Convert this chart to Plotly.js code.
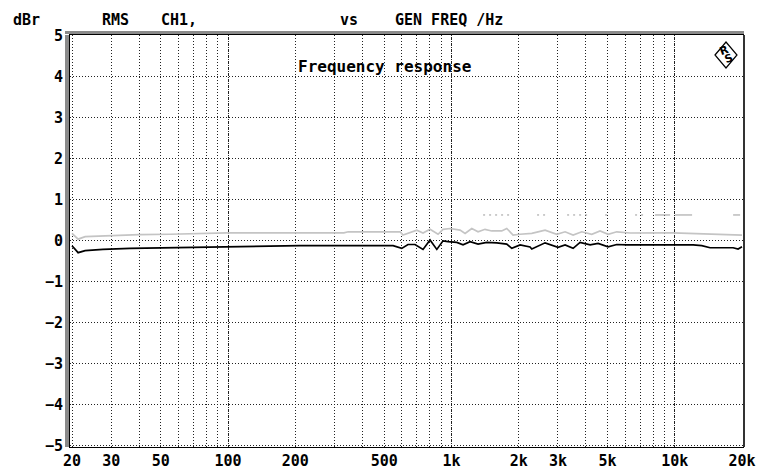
<!DOCTYPE html>
<html>
<head>
<meta charset="utf-8">
<script src="https://cdn.plot.ly/plotly-3.0.1.min.js"></script>
<style>html,body{margin:0;padding:0;background:#fff;}#chart{width:762px;height:472px;}</style>
</head>
<body>
<div id="chart"></div>
<script>
// ---- data ----
const freqGray = [20, 21.3, 22.9, 30, 40, 55, 83, 99, 210, 330, 345, 589, 607, 700, 746, 802, 871, 917, 986, 1093, 1151, 1233, 1316, 1414, 1515, 1680, 1769, 1888, 2029, 2290, 2626, 2962, 3228, 3506, 3834, 4250, 4630, 5030, 5500, 6308, 9826, 12552, 13914, 20000];
const dbrGray  = [0.18, 0.04, 0.10, 0.13, 0.15, 0.16, 0.18, 0.195, 0.195, 0.195, 0.22, 0.22, 0.14, 0.26, 0.19, 0.28, 0.16, 0.28, 0.30, 0.26, 0.18, 0.30, 0.22, 0.28, 0.24, 0.24, 0.30, 0.14, 0.16, 0.18, 0.26, 0.16, 0.22, 0.14, 0.22, 0.16, 0.24, 0.16, 0.22, 0.19, 0.195, 0.18, 0.16, 0.14];

const freqBlack = [20, 21.3, 22.9, 27.5, 36.4, 54.7, 116.6, 210, 548, 599, 639, 687, 746, 802, 860, 917, 966, 1057, 1127, 1212, 1316, 1439, 1596, 1769, 1863, 2029, 2249, 2290, 2626, 3002, 3228, 3506, 3767, 4177, 4536, 5030, 5500, 6098, 12080, 13214, 14396, 18250, 19212, 20000];
const dbrBlack  = [-0.12, -0.29, -0.24, -0.21, -0.185, -0.17, -0.146, -0.12, -0.12, -0.185, -0.09, -0.09, -0.21, 0.02, -0.21, 0.0, -0.02, -0.04, -0.10, -0.02, -0.08, -0.04, -0.05, -0.08, -0.185, -0.10, -0.15, -0.20, -0.05, -0.16, -0.10, -0.185, -0.04, -0.10, -0.065, -0.146, -0.09, -0.10, -0.10, -0.12, -0.17, -0.17, -0.20, -0.146];

const refLevel = 0.63;
const sparseStart = [1386, 2418, 3296, 4876, 6642];
const sparseEnd   = [1869, 2626, 4177, 5134, 7516];
const denseStart  = [8162, 10032, 18250];
const denseEnd    = [9528, 11956, 19612];

const gridFreqs = [20,30,40,50,60,70,80,90,100,200,300,400,500,600,700,800,900,1000,2000,3000,4000,5000,6000,7000,8000,9000,10000,20000];
const labelFreqs = {20:'20',30:'30',50:'50',100:'100',200:'200',500:'500',1000:'1k',2000:'2k',3000:'3k',5000:'5k',10000:'10k',20000:'20k'};
const decadeFreqs = [100, 1000, 10000];
const yTicks = [-5,-4,-3,-2,-1,0,1,2,3,4,5];
const yLabels = ['\u22125','\u22124','\u22123','\u22122','\u22121','0','1','2','3','4','5'];

// ---- helpers ----
function segs(starts, ends, level){
  const x=[], y=[];
  for(let i=0;i<starts.length;i++){ x.push(starts[i], ends[i], null); y.push(level, level, null); }
  return {x, y};
}
const W = 762, H = 472, L = 70, R = 19, T = 35, B = 25;
const PW = W - L - R, PH = H - T - B;
const px = v => (v - L) / PW;
const py = v => (H - B - v) / PH;

const sp = segs(sparseStart, sparseEnd, refLevel);
const dn = segs(denseStart, denseEnd, refLevel);

const FONT = 'DejaVu Sans Mono, monospace';

const traces = [
  {x: sp.x, y: sp.y, mode:'lines', line:{color:'#9a9a9a', width:1, dash:'2px,4px'}, connectgaps:false, hoverinfo:'skip'},
  {x: dn.x, y: dn.y, mode:'lines', line:{color:'#9a9a9a', width:1}, connectgaps:false, hoverinfo:'skip'},
  {x: freqGray, y: dbrGray, mode:'lines', line:{color:'#c4c4c4', width:1.7}},
  {x: freqBlack, y: dbrBlack, mode:'lines', line:{color:'#000000', width:1.7}},
  {x: [100], y:[0], xaxis:'x2', mode:'markers', marker:{opacity:0}, hoverinfo:'skip'}
];

const xr = [Math.log10(20) - 2/223.3, Math.log10(20000) + 1/223.3];

const txt = (text, x, y, xanchor='left', size=15) => ({
  text, xref:'paper', yref:'paper', x: px(x), y: py(y), xanchor, yanchor:'middle',
  showarrow:false, font:{family:FONT, size, weight:'bold', color:'#000'}
});

const layout = {
  width: W, height: H,
  margin: {l:L, r:R, t:T, b:B, pad:0},
  paper_bgcolor:'#fff', plot_bgcolor:'#fff',
  showlegend:false,
  font:{family:FONT, size:15, color:'#000', weight:'bold'},
  title:{text:'Frequency response', xref:'paper', x:px(298), xanchor:'left', yref:'container', y:1-66.5/H, yanchor:'middle',
         font:{family:FONT, size:16, weight:'bold', color:'#000'}},
  xaxis:{type:'log', range:xr, tickmode:'array', tickvals:gridFreqs,
         ticktext:gridFreqs.map(f => labelFreqs[f] || ''),
         showgrid:true, gridcolor:'#222', gridwidth:1, griddash:'1px,2px',
         ticks:'', ticklabelstandoff:0,
         showline:true, linecolor:'#000', linewidth:1, mirror:true, zeroline:false,
         tickfont:{family:FONT, size:15, weight:'bold', color:'#000'}},
  xaxis2:{type:'log', range:xr, overlaying:'x', tickmode:'array', tickvals:decadeFreqs,
          showticklabels:false, showgrid:true, gridcolor:'#222', gridwidth:1, griddash:'1px,1px',
          ticks:'', zeroline:false, showline:false},
  yaxis:{range:[-5.03, 5.02], tickmode:'array', tickvals:yTicks, ticktext:yLabels,
         showgrid:true, gridcolor:'#222', gridwidth:1, griddash:'1px,2px',
         ticks:'', ticklabelstandoff:3, zeroline:false,
         showline:true, linecolor:'#000', linewidth:1, mirror:true,
         tickfont:{family:FONT, size:15, weight:'bold', color:'#000'}},
  shapes:[
    // 3D frame: gray bands left and top
    {type:'rect', xref:'paper', yref:'paper', xsizemode:'pixel', xanchor:0, x0:-5, x1:-1, y0:0, y1:1, ysizemode:'scaled',
     fillcolor:'#8a8a8a', line:{width:0}, layer:'above'},
    {type:'rect', xref:'paper', yref:'paper', ysizemode:'pixel', yanchor:1, y0:1, y1:4, x0:px(65), x1:px(744),
     fillcolor:'#8a8a8a', line:{width:0}, layer:'above'},
    // dark right edge
    {type:'rect', xref:'paper', yref:'paper', xsizemode:'pixel', xanchor:1, x0:0, x1:2, y0:0, y1:1,
     fillcolor:'#333', line:{width:0}, layer:'above'},
    // R&S logo diamond
    {type:'path', xref:'paper', yref:'paper', xsizemode:'pixel', ysizemode:'pixel', xanchor:px(726), yanchor:py(55),
     path:'M-11,0 L0,13 L11,0 L0,-13 Z', line:{color:'#000', width:1.2}, fillcolor:'rgba(0,0,0,0)', layer:'above'}
  ],
  annotations:[
    txt('dBr', 11, 20),
    txt('RMS', 100, 20),
    txt('CH1,', 159, 20),
    txt('vs', 338, 20),
    txt('GEN FREQ /Hz', 393, 20),
    {text:'R', xref:'paper', yref:'paper', x:px(724), y:py(51), xanchor:'center', yanchor:'middle', showarrow:false, textangle:-20,
     font:{family:'DejaVu Sans', size:11, color:'#000'}},
    {text:'S', xref:'paper', yref:'paper', x:px(729), y:py(59), xanchor:'center', yanchor:'middle', showarrow:false, textangle:-20,
     font:{family:'DejaVu Sans', size:11, color:'#000'}}
  ]
};

Plotly.newPlot('chart', traces, layout, {staticPlot:true, displayModeBar:false});
</script>
</body>
</html>
